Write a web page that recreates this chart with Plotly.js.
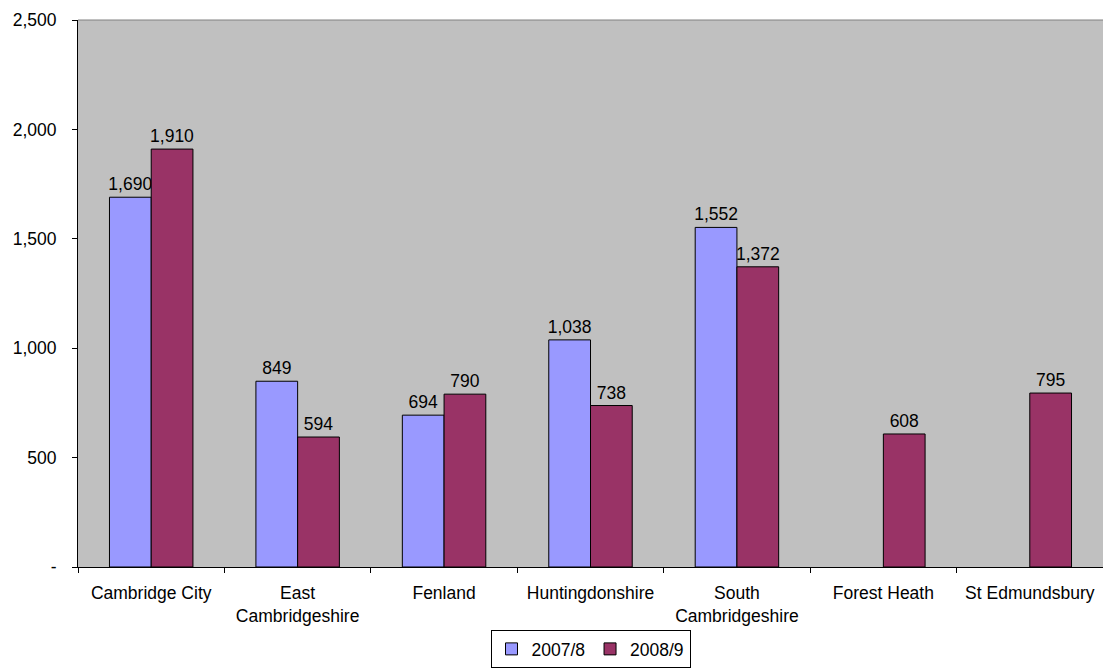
<!DOCTYPE html>
<html>
<head>
<meta charset="utf-8">
<script src="https://cdn.plot.ly/plotly-3.0.1.min.js"></script>
<style>html,body{margin:0;padding:0;background:#fff;}#chart{width:1103px;height:668px;}</style>
</head>
<body>
<div id="chart"></div>
<script>
const categories = ["Cambridge City", "East<br>Cambridgeshire", "Fenland", "Huntingdonshire", "South<br>Cambridgeshire", "Forest Heath", "St Edmundsbury"];
const series2007 = [1690, 849, 694, 1038, 1552, null, null];
const series2008 = [1910, 594, 790, 738, 1372, 608, 795];
const seriesNames = ["2007/8", "2008/9"];
const yTickVals = [0, 500, 1000, 1500, 2000, 2500];
const yTickText = ["-", "500", "1,000", "1,500", "2,000", "2,500"];

const font = {family: "Liberation Sans, Arial, sans-serif", size: 17.5, color: "#000"};
const traces = [
  {type: "bar", x: categories, y: series2007, name: seriesNames[0],
   marker: {color: "#9999FF", line: {color: "#000", width: 1}},
   texttemplate: "%{y:,}", textposition: "outside", cliponaxis: false, constraintext: "none",
   textfont: font},
  {type: "bar", x: categories, y: series2008, name: seriesNames[1],
   marker: {color: "#993366", line: {color: "#000", width: 1}},
   texttemplate: "%{y:,}", textposition: "outside", cliponaxis: false, constraintext: "none",
   textfont: font}
];
const layout = {
  width: 1103, height: 668,
  margin: {l: 78, r: 0, t: 20, b: 101},
  paper_bgcolor: "#fff", plot_bgcolor: "#C0C0C0",
  font: font,
  barmode: "group", bargap: 0.43, bargroupgap: 0,
  showlegend: true,
  legend: {orientation: "h", xref: "paper", yref: "container", x: 0.5, xanchor: "center", y: 0.0, yanchor: "bottom",
    bordercolor: "#000", borderwidth: 1, font: {family: font.family, size: 17.5, color: "#000"},
    itemwidth: 30, tracegroupgap: 0},
  xaxis: {type: "category", tickson: "boundaries", ticks: "outside", ticklen: 5, tickcolor: "#000",
    showline: true, linecolor: "#000", linewidth: 1, showgrid: false, tickfont: font, ticklabelstandoff: 10},
  yaxis: {range: [0, 2500], tickvals: yTickVals, ticktext: yTickText, ticks: "outside", ticklen: 5,
    tickcolor: "#000", showline: true, linecolor: "#000", linewidth: 1, showgrid: false, zeroline: false,
    tickfont: font, ticklabelstandoff: 12},
  shapes: [{type: "line", xref: "paper", yref: "paper", x0: 0, x1: 1, y0: 1, y1: 1, line: {color: "#808080", width: 1}}]
};
Plotly.newPlot("chart", traces, layout, {displayModeBar: false, staticPlot: true});
</script>
</body>
</html>
